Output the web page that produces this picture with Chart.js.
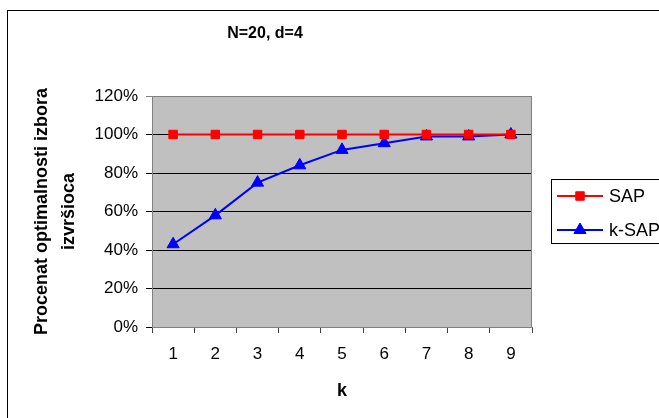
<!DOCTYPE html>
<html lang="sr">
<head>
<meta charset="UTF-8">
<title>N=20, d=4</title>
<script src="https://cdn.jsdelivr.net/npm/chart.js@4.4.0/dist/chart.umd.min.js"></script>
<style>
  html, body { margin: 0; padding: 0; background: #fff; overflow: hidden; }
  #frame { position: absolute; left: 7px; top: 10px; width: 720px; height: 500px; border: 1px solid #000; }
  #wrap { position: absolute; left: 0; top: 0; width: 659px; height: 418px; }
</style>
</head>
<body>
<div id="frame"></div>
<div id="wrap"><canvas id="chart"></canvas></div>
<script>
const chartTitle = 'N=20, d=4';
const kLabels = ['1', '2', '3', '4', '5', '6', '7', '8', '9'];
const sapValues = [100, 100, 100, 100, 100, 100, 100, 100, 100];
const ksapValues = [43, 58, 75, 84, 92, 95.5, 99, 99, 100];
const yTitle = ['Procenat optimalnosti izbora', 'izvršioca'];
const xTitle = 'k';

Chart.defaults.font.family = '"Liberation Sans", Arial, sans-serif';
Chart.defaults.color = '#000';

// gray plot area + gray border like Excel
const plotArea = {
  id: 'plotArea',
  beforeDraw(chart) {
    const a = chart.chartArea, ctx = chart.ctx;
    ctx.save();
    ctx.fillStyle = '#c0c0c0';
    ctx.fillRect(a.left, a.top, a.right - a.left, a.bottom - a.top);
    ctx.restore();
  },
  afterDatasetsDraw(chart) {
    const a = chart.chartArea, ctx = chart.ctx;
    ctx.save();
    ctx.strokeStyle = '#808080';
    ctx.lineWidth = 1;
    ctx.beginPath();
    ctx.moveTo(a.left, a.top + 0.5);
    ctx.lineTo(a.right - 0.5, a.top + 0.5);
    ctx.lineTo(a.right - 0.5, a.bottom);
    ctx.stroke();
    ctx.restore();
  }
};

// title centred over the chart frame, not the canvas
const frameTitle = {
  id: 'frameTitle',
  afterDraw(chart) {
    const ctx = chart.ctx;
    ctx.save();
    ctx.font = 'bold 16px "Liberation Sans", Arial, sans-serif';
    ctx.fillStyle = '#000';
    ctx.textAlign = 'center';
    ctx.textBaseline = 'middle';
    ctx.fillText(chartTitle, 265, 34);
    ctx.restore();
  }
};

// boxed legend on the right, partly cut off like the original
const boxLegend = {
  id: 'boxLegend',
  afterDraw(chart) {
    const ctx = chart.ctx;
    const left = 551, top = 179, rowH = 34;
    ctx.save();
    ctx.fillStyle = '#fff';
    ctx.fillRect(left, top, 140, 64);
    ctx.strokeStyle = '#000';
    ctx.lineWidth = 1;
    ctx.strokeRect(left + 0.5, top + 0.5, 140, 64);
    ctx.font = '18px "Liberation Sans", Arial, sans-serif';
    ctx.textBaseline = 'middle';
    chart.data.datasets.forEach((ds, i) => {
      const y = top + 17 + i * rowH;
      ctx.strokeStyle = ds.borderColor;
      ctx.lineWidth = 2;
      ctx.beginPath();
      ctx.moveTo(left + 6, y);
      ctx.lineTo(left + 52, y);
      ctx.stroke();
      ctx.fillStyle = ds.backgroundColor;
      ctx.strokeStyle = ds.borderColor;
      ctx.lineWidth = 1;
      Chart.helpers.drawPoint(ctx, { pointStyle: ds.pointStyle, radius: ds.pointRadius, borderWidth: 1 }, left + 29, y);
      ctx.fillStyle = '#000';
      ctx.fillText(ds.label, left + 58, y + 1);
    });
    ctx.restore();
  }
};

new Chart(document.getElementById('chart'), {
  type: 'line',
  data: {
    labels: kLabels,
    datasets: [
      {
        label: 'SAP',
        data: sapValues,
        borderColor: '#ff0000',
        backgroundColor: '#ff0000',
        borderWidth: 2,
        pointStyle: 'rect',
        pointRadius: 6,
        pointBorderWidth: 1,
        tension: 0
      },
      {
        label: 'k-SAP',
        data: ksapValues,
        borderColor: '#0000ff',
        backgroundColor: '#0000ff',
        borderWidth: 2,
        pointStyle: 'triangle',
        pointRadius: 7,
        pointBorderWidth: 1,
        tension: 0
      }
    ]
  },
  options: {
    responsive: true,
    maintainAspectRatio: false,
    animation: false,
    layout: { padding: { top: 96, right: 127, left: 0, bottom: 0 } },
    plugins: {
      legend: { display: false },
      title: { display: false },
      tooltip: { enabled: false }
    },
    scales: {
      x: {
        offset: true,
        afterFit(scale) { scale.height = 91; },
        grid: {
          offset: true,
          drawOnChartArea: false,
          drawTicks: true,
          tickLength: 6,
          color: '#404040'
        },
        border: { color: '#808080' },
        ticks: { font: { size: 17 }, padding: 11, maxRotation: 0 },
        title: {
          display: true,
          text: xTitle,
          font: { size: 18, weight: 'bold' },
          padding: { top: 0, bottom: 16 }
        }
      },
      y: {
        min: 0,
        max: 120,
        afterFit(scale) { scale.width = 152; },
        ticks: {
          stepSize: 20,
          font: { size: 17 },
          padding: 8,
          callback: v => v + '%'
        },
        grid: {
          tickLength: 6,
          color: ctx => (ctx.tick && ctx.tick.value === 120) ? '#808080' : '#000'
        },
        border: { color: '#808080' },
        title: {
          display: true,
          text: yTitle,
          font: { size: 18, weight: 'bold', lineHeight: 1.5 },
          padding: { top: 29, bottom: 0 }
        }
      }
    }
  },
  plugins: [plotArea, frameTitle, boxLegend]
});
</script>
</body>
</html>
